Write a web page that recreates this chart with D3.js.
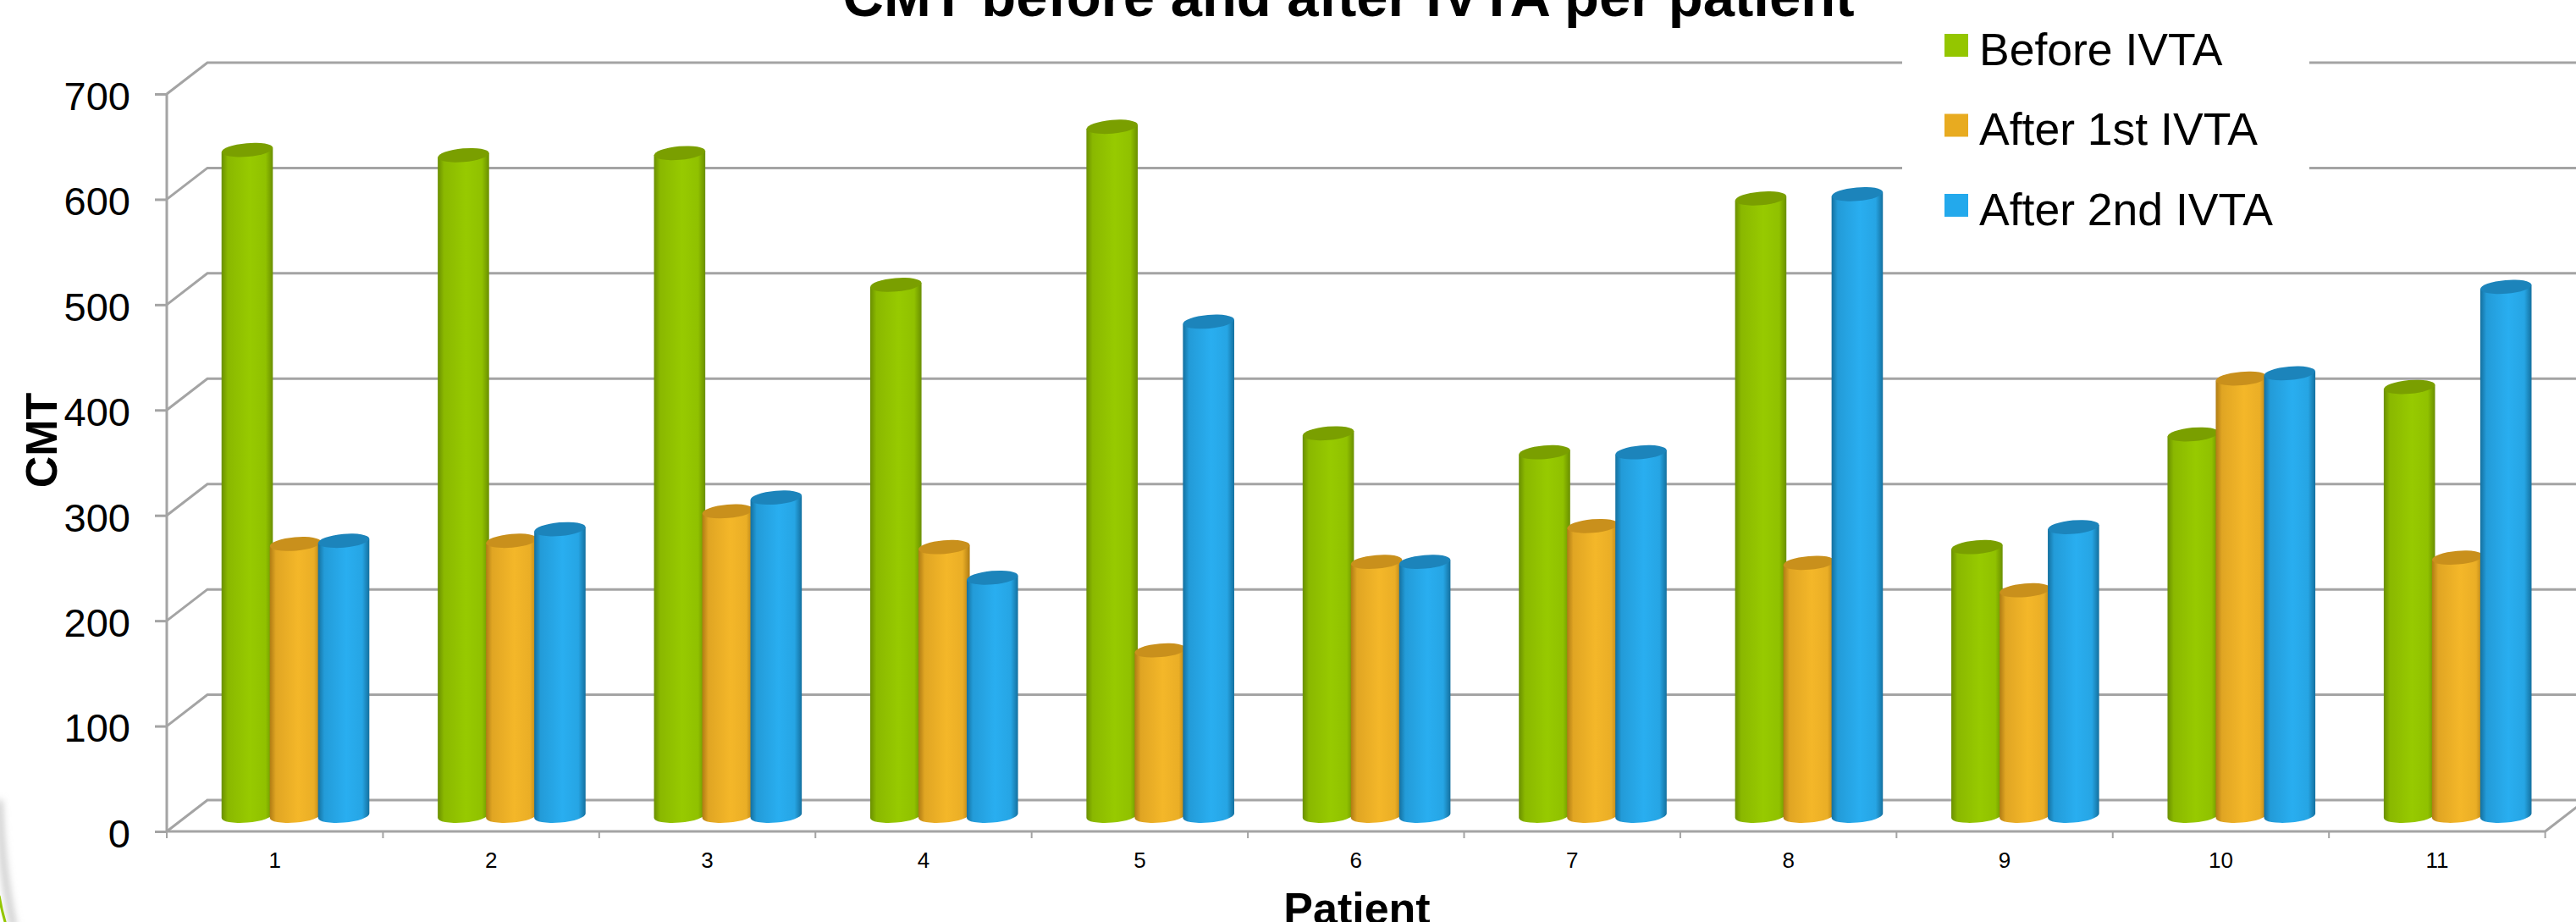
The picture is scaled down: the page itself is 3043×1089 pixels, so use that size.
<!DOCTYPE html>
<html>
<head>
<meta charset="utf-8">
<title>CMT before and after IVTA per patient</title>
<script src="https://cdn.jsdelivr.net/npm/d3@7"></script>
<style>
  html, body { margin: 0; padding: 0; background: #fff; overflow: hidden; }
  svg { display: block; font-family: "Liberation Sans", Arial, sans-serif; }
</style>
</head>
<body>
<div id="chart"></div>
<script>
const patients = ["1", "2", "3", "4", "5", "6", "7", "8", "9", "10", "11"];
const seriesNames = ["Before IVTA", "After 1st IVTA", "After 2nd IVTA"];
const beforeIvta = [632, 627, 629, 504, 654, 363, 345, 586, 255, 362, 407];
const after1stIvta = [258, 261, 289, 255, 157, 241, 275, 240, 214, 415, 245];
const after2ndIvta = [261, 272, 302, 226, 469, 241, 345, 590, 274, 420, 502];
const yTicks = [0, 100, 200, 300, 400, 500, 600, 700];

const seriesValues = [beforeIvta, after1stIvta, after2ndIvta];
const seriesColors = [
  {base: "#97ca00", edge: "#6a8f00", top: "#7a9f00", key: "#94c600"},
  {base: "#f4b729", edge: "#b07c14", top: "#c9901c", key: "#e8ab20"},
  {base: "#29aef0", edge: "#14709f", top: "#1c84bb", key: "#23a9ec"}
];

const width = 3043, height = 1089;
const plot = {left: 197, right: 3006.6, top: 111, bottom: 982};
// 3D look of the chart: how far the back wall sits from the front plane
const depth = {x: 48, y: 37};
const bar = {step: 57, rx: 30.3, ry: 8, tilt: 5, edgeDy: 2.5};

const svg = d3.select("#chart").append("svg")
    .attr("width", width)
    .attr("height", height);

// Scales
const xScale = d3.scaleBand().domain(patients).range([plot.left, plot.right]);
const xInner = d3.scaleBand().domain(seriesNames).range([0, bar.step * 3]);
const yScale = d3.scaleLinear().domain([0, 700]).range([plot.bottom, plot.top]);

// Gradients give the cylinders their round shading
const defs = svg.append("defs");
seriesColors.forEach((c, i) => {
  const grad = defs.append("linearGradient").attr("id", `cyl-${i}`);
  grad.append("stop").attr("offset", "0%").attr("stop-color", c.edge);
  grad.append("stop").attr("offset", "12%").attr("stop-color", d3.interpolateRgb(c.edge, c.base)(0.7));
  grad.append("stop").attr("offset", "55%").attr("stop-color", c.base);
  grad.append("stop").attr("offset", "86%").attr("stop-color", d3.interpolateRgb(c.edge, c.base)(0.85));
  grad.append("stop").attr("offset", "100%").attr("stop-color", c.edge);
});
defs.append("filter").attr("id", "soft").attr("x", "-200%").attr("width", "500%")
  .append("feGaussianBlur").attr("stdDeviation", 4);

// Slide decoration in the lower left corner
svg.append("path")
    .attr("d", "M-1,945 Q2,1030 16,1095")
    .attr("fill", "none")
    .attr("stroke", "#c4c4c4")
    .attr("stroke-width", 7)
    .attr("filter", "url(#soft)");
svg.append("path")
    .attr("d", "M-1,1058 Q2,1076 7,1092")
    .attr("fill", "none")
    .attr("stroke", "#94c600")
    .attr("stroke-width", 3);

// Walls and gridlines
const gridG = svg.append("g")
    .attr("fill", "none")
    .attr("stroke", "#a4a4a4")
    .attr("stroke-width", 3);

gridG.selectAll(".grid")
  .data(yTicks)
  .join("path")
    .attr("class", "grid")
    .attr("d", d => `M${plot.left},${yScale(d)}L${plot.left + depth.x},${yScale(d) - depth.y}H${plot.right + depth.x}`);

gridG.append("path")
    .attr("d", `M${plot.left},${plot.top}V${plot.bottom}H${plot.right}l${depth.x},${-depth.y}`);

// Category ticks sit on the band edges
gridG.selectAll(".x-tick")
  .data(patients.map(p => xScale(p)).concat(plot.right))
  .join("path")
    .attr("class", "x-tick")
    .attr("stroke-width", 2)
    .attr("d", d => `M${d},${plot.bottom}v8`);

// Axes
const yAxis = d3.axisLeft(yScale).tickValues(yTicks).tickSize(14).tickPadding(29);
const xAxis = d3.axisBottom(xScale).tickSize(0).tickPadding(24.5);

const yAxisG = svg.append("g")
    .attr("transform", `translate(${plot.left},0)`)
    .call(yAxis);
yAxisG.select(".domain").remove();
yAxisG.selectAll("line").attr("stroke", "#a4a4a4").attr("stroke-width", 3);
yAxisG.selectAll("text")
    .attr("dy", "0.39em")
    .attr("font-size", 47)
    .attr("font-family", "Liberation Sans")
    .attr("fill", "#000");

const xAxisG = svg.append("g")
    .attr("transform", `translate(0,${plot.bottom})`)
    .call(xAxis);
xAxisG.select(".domain").remove();
xAxisG.selectAll("text")
    .attr("font-size", 26)
    .attr("font-family", "Liberation Sans")
    .attr("fill", "#000");

// Cylinders, drawn series by series so each one overlaps the one before it
const flat = [];
patients.forEach((p, i) => {
  seriesNames.forEach((s, j) => flat.push({patient: p, series: s, index: j, value: seriesValues[j][i]}));
});

const barCx = d => xScale(d.patient) + (xScale.bandwidth() - xInner.range()[1]) / 2 + depth.x / 2
    + xInner(d.series) + bar.rx - 1.5;
const barCy = v => yScale(v) - depth.y / 2;

const barsG = svg.append("g");
const cylinders = barsG.selectAll(".cyl")
  .data(flat)
  .join("g")
    .attr("class", "cyl");

cylinders.append("path")
    .attr("fill", d => `url(#cyl-${d.index})`)
    .attr("d", d => {
      const cx = barCx(d), top = barCy(d.value), base = barCy(0);
      return `M${cx - bar.rx},${top + bar.edgeDy}`
        + `L${cx - bar.rx},${base + bar.edgeDy}`
        + `A${bar.rx},${bar.ry} ${-bar.tilt} 0 0 ${cx + bar.rx},${base - bar.edgeDy}`
        + `L${cx + bar.rx},${top - bar.edgeDy}Z`;
    });

cylinders.append("ellipse")
    .attr("rx", bar.rx)
    .attr("ry", bar.ry)
    .attr("fill", d => seriesColors[d.index].top)
    .attr("transform", d => `translate(${barCx(d)},${barCy(d.value)}) rotate(${-bar.tilt})`);

// Legend box covers the gridlines behind it
svg.append("rect")
    .attr("x", 2247)
    .attr("y", 0)
    .attr("width", 481)
    .attr("height", 290)
    .attr("fill", "#fff");

const legendY = d3.scalePoint().domain(seriesNames).range([40, 229]);
const legend = svg.selectAll(".legend")
  .data(seriesNames)
  .join("g")
    .attr("class", "legend")
    .attr("transform", d => `translate(2297,${legendY(d)})`);
legend.append("rect")
    .attr("width", 28)
    .attr("height", 27)
    .attr("fill", (d, i) => seriesColors[i].key);
legend.append("text")
    .attr("x", 41)
    .attr("y", 36.5)
    .attr("font-size", 53.5)
    .attr("fill", "#000")
    .text(d => d);

// Titles, cut by the slide edge just like the reference
svg.append("text")
    .attr("x", 1593)
    .attr("y", 19)
    .attr("text-anchor", "middle")
    .attr("font-size", 67)
    .attr("font-weight", "bold")
    .text("CMT before and after IVTA per patient");

svg.append("text")
    .attr("x", 1603)
    .attr("y", 1091)
    .attr("text-anchor", "middle")
    .attr("font-size", 52)
    .attr("font-weight", "bold")
    .text("Patient");

svg.append("text")
    .attr("transform", "translate(67,520) rotate(-90)")
    .attr("text-anchor", "middle")
    .attr("font-size", 52)
    .attr("font-weight", "bold")
    .text("CMT");
</script>
</body>
</html>
